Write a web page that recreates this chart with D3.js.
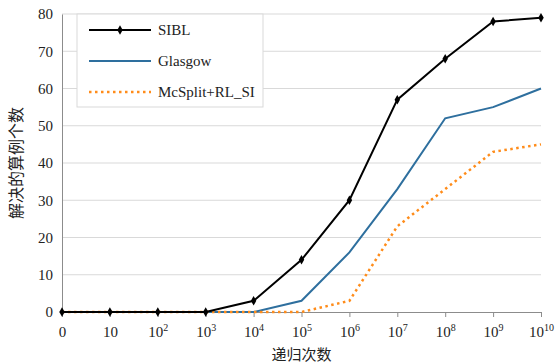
<!DOCTYPE html>
<html>
<head>
<meta charset="utf-8">
<script src="https://cdn.jsdelivr.net/npm/d3@7"></script>
<style>
  body { margin: 0; background: #fff; }
  text { font-family: "Liberation Serif", "Times New Roman", serif; }
</style>
</head>
<body>
<svg id="chart" width="555" height="364"></svg>
<script>
const categories = ['0', '10', '2', '3', '4', '5', '6', '7', '8', '9', '10'];
const tickExps = [null, null, 2, 3, 4, 5, 6, 7, 8, 9, 10];
const yTicks = [0, 10, 20, 30, 40, 50, 60, 70, 80];
const sibl = [0, 0, 0, 0, 3, 14, 30, 57, 68, 78, 79];
const glasgow = [0, 0, 0, 0, 0, 3, 16, 33, 52, 55, 60];
const mcsplit = [0, 0, 0, 0, 0, 0, 3, 23, 33, 43, 45];

const svg = d3.select('#chart');
const margin = { top: 14, right: 14, bottom: 52, left: 62 };
const width = +svg.attr('width') - margin.left - margin.right;
const height = +svg.attr('height') - margin.top - margin.bottom;
const g = svg.append('g').attr('transform', `translate(${margin.left},${margin.top})`);

const idx = d3.range(categories.length);
const x = d3.scalePoint().domain(idx).range([0, width]);
const y = d3.scaleLinear().domain([0, 80]).range([height, 0]);

// gridlines
g.append('g')
    .selectAll('line')
    .data(yTicks.filter(d => d > 0))
    .join('line')
    .attr('x1', 0).attr('x2', width)
    .attr('y1', d => y(d)).attr('y2', d => y(d))
    .attr('stroke', '#d9d9d9').attr('stroke-width', 1);

// y axis
const yAxis = g.append('g')
    .call(d3.axisLeft(y).tickValues(yTicks).tickSize(0).tickPadding(9));
yAxis.select('.domain').attr('stroke', '#8c8c8c');
yAxis.selectAll('text').attr('font-size', 15).attr('fill', '#222')
    .style('font-family', '"Liberation Serif", serif');

// x axis
const xAxis = g.append('g')
    .attr('transform', `translate(0,${height})`)
    .call(d3.axisBottom(x).tickSize(5).tickSizeOuter(0).tickPadding(9).tickFormat(() => ''));
xAxis.select('.domain').attr('stroke', '#8c8c8c');
xAxis.selectAll('.tick line').attr('stroke', '#8c8c8c');
xAxis.selectAll('.tick text').each(function (d) {
    const t = d3.select(this)
        .attr('font-size', 15).attr('fill', '#222')
        .style('font-family', '"Liberation Serif", serif');
    if (tickExps[d] == null) {
        t.text(categories[d]);
    } else {
        t.append('tspan').text('10');
        t.append('tspan').attr('dy', -6).attr('font-size', 10).text(categories[d]);
    }
});

const line = d3.line().x((d, i) => x(i)).y(d => y(d));

g.append('path').datum(glasgow)
    .attr('fill', 'none').attr('stroke', '#2e6f9e').attr('stroke-width', 2)
    .attr('d', line);

g.append('path').datum(mcsplit)
    .attr('fill', 'none').attr('stroke', '#ff8c1a').attr('stroke-width', 2.5)
    .attr('stroke-dasharray', '2.5,3.5')
    .attr('d', line);

g.append('path').datum(sibl)
    .attr('fill', 'none').attr('stroke', '#000').attr('stroke-width', 2)
    .attr('d', line);

const diamond = d3.symbol().type(d3.symbolDiamond).size(26);
g.append('g').selectAll('path')
    .data(sibl)
    .join('path')
    .attr('transform', (d, i) => `translate(${x(i)},${y(d)})`)
    .attr('d', diamond)
    .attr('fill', '#000');

// legend
const legend = svg.append('g').attr('transform', 'translate(77,14)');
legend.append('rect')
    .attr('width', 186).attr('height', 93)
    .attr('fill', '#fff').attr('stroke', '#d9d9d9');
const items = [
    { name: 'SIBL', stroke: '#000', dash: null, w: 2, marker: true },
    { name: 'Glasgow', stroke: '#2e6f9e', dash: null, w: 2 },
    { name: 'McSplit+RL_SI', stroke: '#ff8c1a', dash: '2.5,3.5', w: 2.5 }
];
items.forEach((it, i) => {
    const yy = 16 + i * 31;
    legend.append('line')
        .attr('x1', 12).attr('x2', 74).attr('y1', yy).attr('y2', yy)
        .attr('stroke', it.stroke).attr('stroke-width', it.w)
        .attr('stroke-dasharray', it.dash);
    if (it.marker) {
        legend.append('path').attr('transform', `translate(43,${yy})`)
            .attr('d', diamond).attr('fill', '#000');
    }
    legend.append('text')
        .attr('x', 81).attr('y', yy).attr('dy', '0.35em')
        .attr('font-size', 15).attr('fill', '#222')
        .text(it.name);
});

// axis titles
svg.append('text')
    .attr('transform', `translate(22,${margin.top + height / 2}) rotate(-90)`)
    .attr('text-anchor', 'middle')
    .attr('font-size', 16).attr('fill', '#222')
    .style('font-family', '"Noto Sans CJK SC", sans-serif')
    .text('解决的算例个数');

svg.append('text')
    .attr('x', margin.left + width / 2).attr('y', 360)
    .attr('text-anchor', 'middle')
    .attr('font-size', 15).attr('fill', '#222')
    .style('font-family', '"Noto Sans CJK SC", sans-serif')
    .text('递归次数');
</script>
</body>
</html>
